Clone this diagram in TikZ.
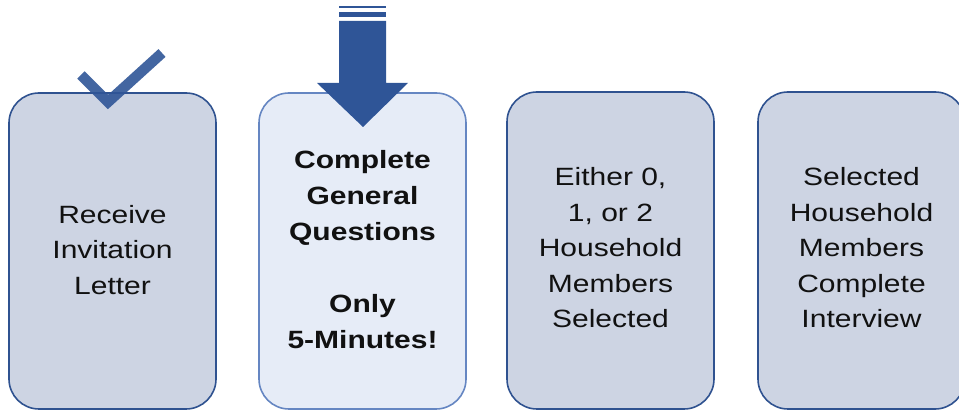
\documentclass[tikz,border=0pt]{standalone}
\usepackage{fontspec}
\setmainfont{Liberation Sans}[FakeStretch=1.2]
\definecolor{boxfill}{HTML}{CDD4E3}
\definecolor{boxline}{HTML}{2F5290}
\definecolor{hifill}{HTML}{E6ECF7}
\definecolor{hiline}{HTML}{6586C2}
\definecolor{markblue}{HTML}{2F5597}
\definecolor{txt}{HTML}{111111}
\tikzset{
  stepbox/.style={draw=boxline, fill=boxfill, line width=1.6pt, rounded corners=30pt},
  hibox/.style={draw=hiline, fill=hifill, line width=1.6pt, rounded corners=30pt},
  boxtext/.style={align=center, text=txt, inner sep=0pt, font=\fontsize{25}{35.5}\selectfont}
}
\begin{document}
\begin{tikzpicture}[x=1pt,y=-1pt]
\useasboundingbox (0,0) rectangle (959,411);
\clip (0,0) rectangle (959,411);
% boxes
\draw[stepbox] (9,93) rectangle (216,409);
\draw[hibox] (259,93) rectangle (466,409);
\draw[stepbox] (507,92) rectangle (714,409);
\draw[stepbox] (758,92) rectangle (965,409);
% texts
\node[boxtext] (t1) at (112.5,250) {Receive\\Invitation\\Letter};
\node[boxtext, font=\fontsize{25}{36}\selectfont\bfseries] (t2) at (362.5,250) {Complete\\General\\Questions\\[36pt]Only\\5-Minutes!};
\node[boxtext] (t3) at (610.5,248) {Either 0,\\1, or 2\\Household\\Members\\Selected};
\node[boxtext] (t4) at (861.5,248) {Selected\\Household\\Members\\Complete\\Interview};
% check mark
\draw[markblue, opacity=0.9, line width=10.5pt, line cap=butt, miter limit=10] (81,75) -- (108,102) -- (162,53);
% striped arrow
\fill[markblue] (339,6) rectangle (386,8);
\fill[markblue] (339,12) rectangle (386,17);
\fill[markblue] (339,21) -- (386,21) -- (386,83) -- (408,83) -- (363,127) -- (317,83) -- (339,83) -- cycle;
\end{tikzpicture}
\end{document}
